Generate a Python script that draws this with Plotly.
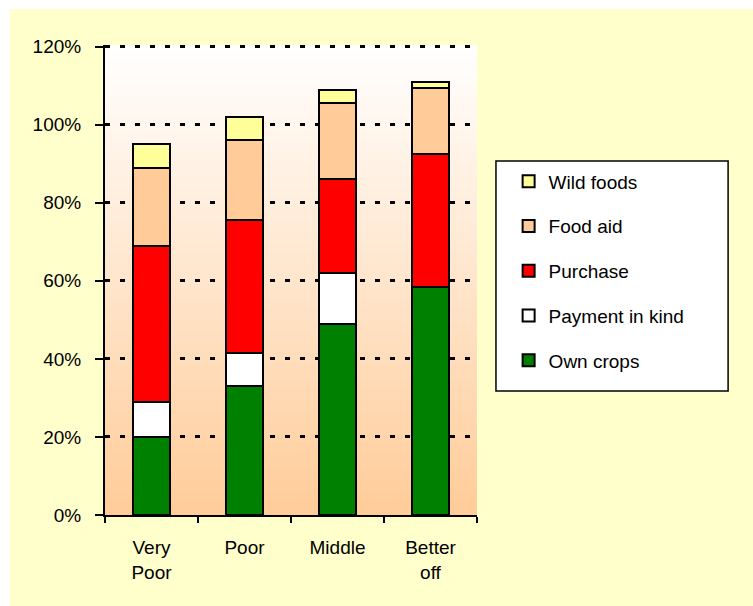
import base64
import struct
import zlib

import plotly.graph_objects as go

# ---- data ----
categories = ["Very<br>Poor", "Poor", "Middle", "Better<br>off"]
own_crops = [20, 33, 49, 58.5]
payment_in_kind = [9, 8.5, 13, 0]
purchase = [40, 34, 24, 34]
food_aid = [20, 20.5, 19.5, 17]
wild_foods = [6, 6, 3.5, 1.3]

y_ticks = [0, 20, 40, 60, 80, 100, 120]
y_tick_labels = ["0%", "20%", "40%", "60%", "80%", "100%", "120%"]

series = [
    ("Own crops", own_crops, "#008000"),
    ("Payment in kind", payment_in_kind, "#FFFFFF"),
    ("Purchase", purchase, "#FF0000"),
    ("Food aid", food_aid, "#FFCC99"),
    ("Wild foods", wild_foods, "#FFFF99"),
]

FONT = "Liberation Sans"
FS = 19


def gradient_png(h, top, bottom):
    raw = b""
    for i in range(h):
        t = i / (h - 1)
        c = bytes(round(top[k] + (bottom[k] - top[k]) * t) for k in range(3))
        raw += b"\x00" + c + c
    def chunk(tag, data):
        return (struct.pack(">I", len(data)) + tag + data
                + struct.pack(">I", zlib.crc32(tag + data) & 0xFFFFFFFF))
    ihdr = struct.pack(">IIBBBBB", 2, h, 8, 2, 0, 0, 0)
    png = (b"\x89PNG\r\n\x1a\n" + chunk(b"IHDR", ihdr)
           + chunk(b"IDAT", zlib.compress(raw)) + chunk(b"IEND", b""))
    return "data:image/png;base64," + base64.b64encode(png).decode()


fig = go.Figure()
n = len(series)
for i, (name, vals, color) in enumerate(series):
    fig.add_trace(go.Bar(
        x=categories, y=vals, name=name, legendgroup=name,
        legendrank=n - i,
        marker=dict(color=color, line=dict(color="black", width=2)),
    ))

# plot area: x 105..477, y 45..515 (w=372, h=470)
fig.update_layout(
    width=753, height=606,
    margin=dict(l=105, r=276, t=45, b=91, pad=0),
    barmode="stack", bargap=0.61,
    paper_bgcolor="#FFFFCC",
    plot_bgcolor="rgba(0,0,0,0)",
    font=dict(family=FONT, size=FS, color="black"),
    showlegend=True,
    legend=dict(
        traceorder="grouped", tracegroupgap=17,
        x=1.085, xanchor="left", y=0.75, yanchor="top",
        bgcolor="rgba(0,0,0,0)", borderwidth=0,
        font=dict(family=FONT, size=FS, color="black"),
    ),
    xaxis=dict(
        showline=True, linecolor="black", linewidth=2,
        ticks="outside", tickson="boundaries", ticklen=6, tickwidth=2,
        tickcolor="black", showgrid=False, ticklabelstandoff=14,
        tickfont=dict(family=FONT, size=FS),
    ),
    yaxis=dict(
        range=[0, 120.4], tickmode="array", tickvals=y_ticks,
        ticktext=y_tick_labels,
        showline=True, linecolor="black", linewidth=2,
        ticks="outside", ticklen=8, tickwidth=2, tickcolor="black",
        showgrid=True, gridcolor="black", gridwidth=3, griddash="5px,10px",
        zeroline=False, ticklabelstandoff=10,
        tickfont=dict(family=FONT, size=FS),
    ),
    images=[dict(
        source=gradient_png(256, (255, 255, 255), (255, 204, 153)),
        xref="paper", yref="paper", x=0, y=1, sizex=1, sizey=1,
        xanchor="left", yanchor="top", sizing="stretch", layer="below",
    )],
    shapes=[
        # white margins of the page
        dict(type="rect", xref="paper", yref="paper", x0=-0.4, x1=1.9,
             y0=1.0766, y1=1.2, fillcolor="white", line=dict(width=0), layer="below"),
        dict(type="rect", xref="paper", yref="paper", x0=-0.4, x1=-0.2554,
             y0=-0.3, y1=1.2, fillcolor="white", line=dict(width=0), layer="below"),
        # legend box
        dict(type="rect", xref="paper", yref="paper", x0=1.051, x1=1.675,
             y0=0.2638, y1=0.7532, fillcolor="white",
             line=dict(color="black", width=1.5), layer="above"),
    ],
)

fig.write_html(
    "out.html", config={"displayModeBar": False},
    post_script="document.body.style.margin='0';"
                "document.body.style.background='#FFFFCC';",
)
